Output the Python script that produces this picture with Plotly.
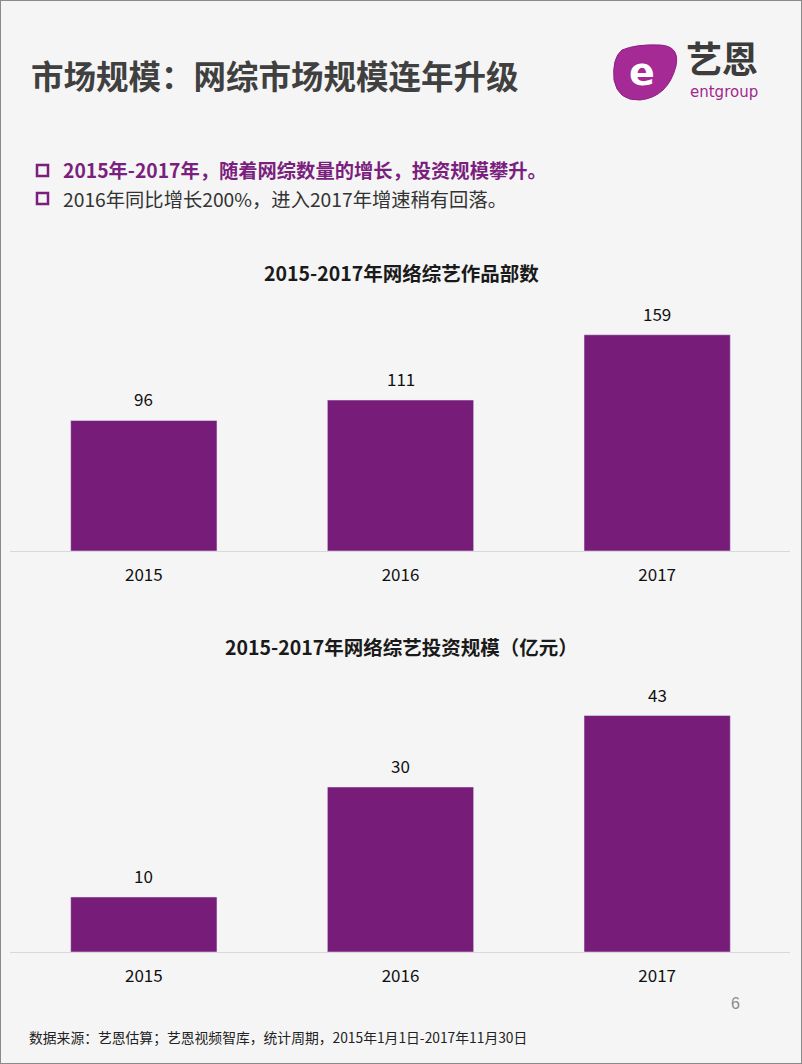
import plotly.graph_objects as go

years = ["2015", "2016", "2017"]
works_count = [96, 111, 159]
invest_scale = [10, 30, 43]

W, H = 802, 1064
BAR = "#781c7a"
PURPLE = "#7b1f7e"

def fy(px):
    return 1 - px / H

def fx(px):
    return px / W

fig = go.Figure()
fig.add_trace(go.Bar(x=years, y=works_count, marker_color=BAR, width=0.57,
                     xaxis="x", yaxis="y", hoverinfo="skip"))
fig.add_trace(go.Bar(x=years, y=invest_scale, marker_color=BAR, width=0.57,
                     xaxis="x2", yaxis="y2", hoverinfo="skip"))

num_font = dict(family="Liberation Sans Narrow, Noto Sans CJK SC", size=17, color="#111")
cjk = "Noto Sans CJK SC, sans-serif"

ann = []
for i, yv in enumerate(works_count):
    ann.append(dict(x=i, y=yv, xref="x", yref="y", text=str(yv), showarrow=False,
                    yanchor="bottom", yshift=7, font=num_font))
for i, yv in enumerate(invest_scale):
    ann.append(dict(x=i, y=yv, xref="x2", yref="y2", text=str(yv), showarrow=False,
                    yanchor="bottom", yshift=7, font=num_font))

ann += [
    dict(x=fx(29), y=fy(75), xref="paper", yref="paper", xanchor="left", yanchor="middle",
         text="<b>市场规模：网综市场规模连年升级</b>", showarrow=False,
         font=dict(family=cjk, size=32.5, color="#404040")),
    dict(x=fx(61), y=fy(170), xref="paper", yref="paper", xanchor="left", yanchor="middle",
         text="<b>2015年-2017年，随着网综数量的增长，投资规模攀升。</b>", showarrow=False,
         font=dict(family=cjk, size=19.3, color=PURPLE)),
    dict(x=fx(61), y=fy(199), xref="paper", yref="paper", xanchor="left", yanchor="middle",
         text="2016年同比增长200%，进入2017年增速稍有回落。", showarrow=False,
         font=dict(family=cjk, size=19.3, color="#333")),
    dict(x=0.5, y=fy(273), xref="paper", yref="paper", xanchor="center", yanchor="middle",
         text="<b>2015-2017年网络综艺作品部数</b>", showarrow=False,
         font=dict(family=cjk, size=19.5, color="#1a1a1a")),
    dict(x=0.5, y=fy(646), xref="paper", yref="paper", xanchor="center", yanchor="middle",
         text="<b>2015-2017年网络综艺投资规模（亿元）</b>", showarrow=False,
         font=dict(family=cjk, size=19.5, color="#1a1a1a")),
    dict(x=fx(735), y=fy(1003), xref="paper", yref="paper", xanchor="center", yanchor="middle",
         text="6", showarrow=False, font=dict(family="Liberation Sans", size=16, color="#8c8c8c")),
    dict(x=fx(27), y=fy(1037), xref="paper", yref="paper", xanchor="left", yanchor="middle",
         text="数据来源：艺恩估算；艺恩视频智库，统计周期，2015年1月1日-2017年11月30日",
         showarrow=False, font=dict(family=cjk, size=13.8, color="#222")),
    # logo texts
    dict(x=fx(642), y=fy(72), xref="paper", yref="paper", xanchor="center", yanchor="middle",
         text="<b>e</b>", showarrow=False, font=dict(family="DejaVu Sans", size=38, color="white")),
    dict(x=fx(722), y=fy(57), xref="paper", yref="paper", xanchor="center", yanchor="middle",
         text="<b>艺恩</b>", showarrow=False, font=dict(family=cjk, size=36, color="#3c3c3c")),
    dict(x=fx(724), y=fy(92), xref="paper", yref="paper", xanchor="center", yanchor="middle",
         text="entgroup", showarrow=False, font=dict(family="DejaVu Sans", size=15, color="#a0288f")),
]

shapes = [
    # page border
    dict(type="rect", xref="paper", yref="paper", x0=0, x1=1, y0=0, y1=1,
         line=dict(color="#8a8a8a", width=2), layer="above"),
    # bullets
    dict(type="rect", xref="paper", yref="paper", x0=fx(37), x1=fx(48), y0=fy(176), y1=fy(165),
         line=dict(color=PURPLE, width=2.5)),
    dict(type="rect", xref="paper", yref="paper", x0=fx(37), x1=fx(48), y0=fy(204), y1=fy(193),
         line=dict(color=PURPLE, width=2.5)),
    # axis lines
    dict(type="line", xref="paper", yref="paper", x0=fx(10), x1=fx(790), y0=fy(551.5), y1=fy(551.5),
         line=dict(color="#d9d9d9", width=1.2), layer="below"),
    dict(type="line", xref="paper", yref="paper", x0=fx(10), x1=fx(790), y0=fy(952.5), y1=fy(952.5),
         line=dict(color="#d9d9d9", width=1.2), layer="below"),
    # logo blob
    dict(type="path", xref="paper", yref="paper",
         path=f"M {fx(622)},{fy(50)} Q {fx(612)},{fy(58)} {fx(614)},{fy(80)} "
              f"Q {fx(618)},{fy(101)} {fx(640)},{fy(100)} Q {fx(668)},{fy(97)} {fx(676)},{fy(66)} "
              f"Q {fx(680)},{fy(46)} {fx(660)},{fy(45)} Q {fx(636)},{fy(44)} {fx(622)},{fy(50)} Z",
         fillcolor="#a52a96", line=dict(color="#8e1f86", width=1)),
]

xcommon = dict(type="category", domain=[fx(15.5), fx(785.5)], range=[-0.5, 2.5],
               showgrid=False, zeroline=False,
               showline=False, ticks="outside", ticklen=9, tickcolor="rgba(0,0,0,0)",
               tickfont=num_font, fixedrange=True, automargin=False)

fig.update_layout(
    width=W, height=H, margin=dict(l=0, r=0, t=0, b=0, autoexpand=False),
    paper_bgcolor="#f5f5f5", plot_bgcolor="rgba(0,0,0,0)",
    showlegend=False,
    annotations=ann, shapes=shapes,
    xaxis=dict(anchor="y", **xcommon),
    yaxis=dict(domain=[fy(551), fy(300)], range=[0, 251 / 1.36], visible=False,
               fixedrange=True, automargin=False),
    xaxis2=dict(anchor="y2", **xcommon),
    yaxis2=dict(domain=[fy(952), fy(690)], range=[0, 262 / 5.5], visible=False,
                fixedrange=True, automargin=False),
)

fig.write_html("out.html", config={"displayModeBar": False})
